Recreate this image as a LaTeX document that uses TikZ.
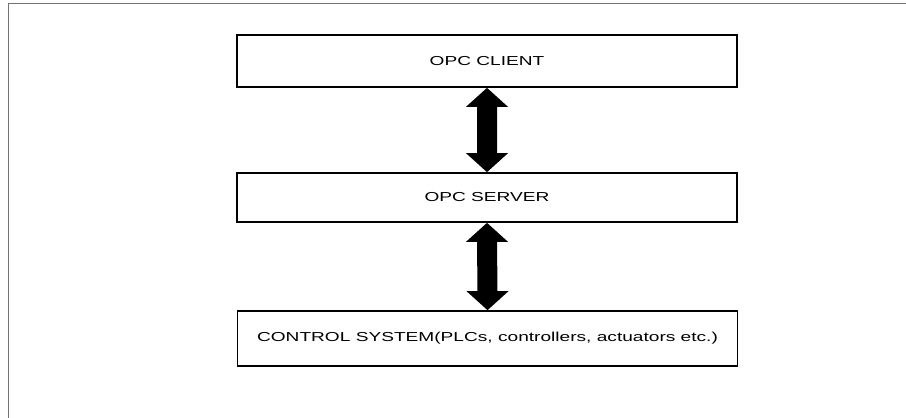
\documentclass[tikz,border=0pt]{standalone}
\usepackage{fontspec}
\setmainfont{Liberation Sans}
\newfontfamily\widesans[FakeStretch=1.47]{Liberation Sans}
\usetikzlibrary{calc}
\tikzset{
  layerbox/.style={draw=black, line width=1.7pt, rectangle, inner sep=0pt,
    minimum width=500pt, font=\widesans\fontsize{13}{15}\selectfont},
  blockarrow/.style={fill=black, draw=none},
  frameline/.style={draw=black!55, line width=0.9pt}
}
\begin{document}
\begin{tikzpicture}[x=1pt, y=-1pt]
  \useasboundingbox (0,0) rectangle (906,418);
  \fill[white] (0,0) rectangle (906,418);
  % outer frame (only its left and top edges fall inside the page)
  \draw[frameline] (8,418) -- (8,3) -- (906,3);

  \node[layerbox, minimum height=52pt] (client) at (487,61) {OPC CLIENT};
  \node[layerbox, minimum height=49pt] (server) at (487,197.5) {OPC SERVER};
  \node[layerbox, minimum height=55pt] (control) at (487.5,338.5)
    {CONTROL SYSTEM(PLCs, controllers, actuators etc.)};

  % double-headed block arrows between the layers
  \foreach \a/\b in {client/server, server/control} {
    \fill[blockarrow] (\a.south) -- ++(21,19) -- ++(-11,0)
      -- ($(\b.north)+(10,-19)$) -- ++(11,0) -- (\b.north)
      -- ++(-21,-19) -- ++(11,0)
      -- ($(\a.south)+(-10,19)$) -- ++(-11,0) -- cycle;
  }
\end{tikzpicture}
\end{document}
